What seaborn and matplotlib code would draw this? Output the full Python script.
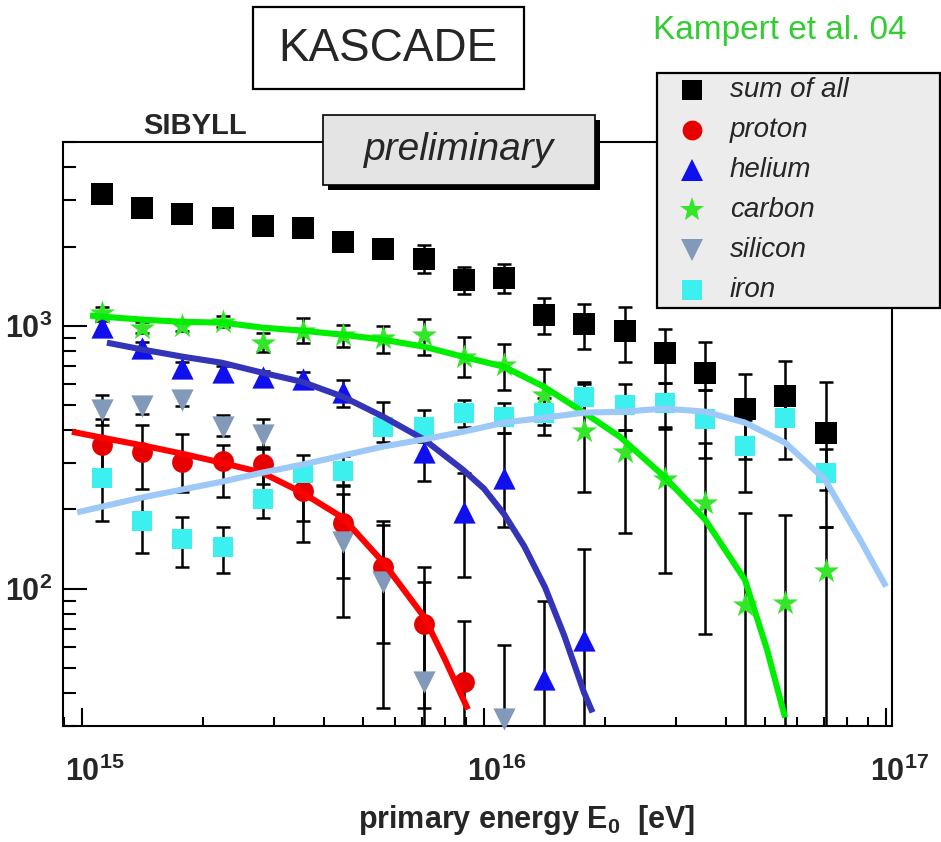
import numpy as np
import pandas as pd
import matplotlib
matplotlib.use("Agg")
import matplotlib.pyplot as plt
import seaborn as sns
from matplotlib.lines import Line2D
from matplotlib.patches import Rectangle
from matplotlib.transforms import ScaledTranslation
from matplotlib.ticker import FixedLocator, FuncFormatter, NullFormatter

# ---------------- data ----------------
nan = np.nan
log_e = [15.05, 15.15, 15.25, 15.35, 15.45, 15.55, 15.65, 15.75, 15.85, 15.95,
         16.05, 16.15, 16.25, 16.35, 16.45, 16.55, 16.65, 16.75, 16.85]

sum_val = [3180, 2810, 2670, 2575, 2400, 2360, 2085, 1963, 1798, 1496,
           1522, 1101, 1018, 957, 789, 663, 483, 542, 392]
sum_hi = [3370, 2980, 2830, 2730, 2545, 2500, 2210, 2080, 2030, 1675,
          1721, 1278, 1212, 1181, 974, 869, 657, 736, 612]
sum_lo = [3000, 2650, 2520, 2430, 2265, 2225, 1965, 1850, 1590, 1323,
          1335, 932, 818, 730, 607, 571, 312, 420, 238]

proton_val = [353, 332, 304, 307, 299, 236, 178, 121, 73.6, 44.3]
proton_hi = [440, 420, 388, 353, 345, 283, 248, 180, 121, 75]
proton_lo = [283, 240, 232, 224, 250, 150, 110, 62, 35, 15]

helium_val = [990, 825, 692, 669, 640, 629, 561, nan, 332, 196, 264, 45.1, 64]
helium_hi = [1040, 870, 730, 705, 675, 665, 624, nan, 440, 276, 392, 90, 141]
helium_lo = [940, 785, 655, 635, 605, 595, 492, nan, 257, 111, 171, 15, 15]

carbon_val = [1121, 983, 1000, 1035, 862, 957, 924, 900, 924, 762,
              711, 547, 396, 332, 262, 212, 86.9, 88.5, 117]
carbon_hi = [1175, 1030, 1050, 1085, 940, 1073, 1009, 1000, 1063, 908,
             854, 686, 612, 402, 410, 359, 194, 191, 172]
carbon_lo = [1070, 940, 955, 985, 796, 862, 832, 790, 776, 640,
             571, 385, 232, 163, 115, 67, 15, 15, 15]

silicon_val = [480, 496, 523, 413, 385, nan, 150, 106, 44, nan, 31.8]
silicon_hi = [547, 535, 555, 459, 443, nan, 228, 175, 106, nan, 61]
silicon_lo = [420, 460, 495, 380, 340, nan, 78, 35, 15, nan, 15]

iron_val = [264, 180, 155, 144.5, 220, 276, 279, 413, 413, 467,
            451, 467, 537, 501, 510, 443, 350, 447, 276]
iron_hi = [347, 224, 188, 172, 309, 323, 320, 514, 480, 523,
           510, 533, 600, 601, 607, 571, 439, 540, 340]
iron_lo = [181, 137, 121, 115, 185, 180, 245, 362, 360, 413,
           392, 420, 470, 402, 406, 315, 234, 312, 172]

# fitted curves (log10 E, N)
fit_p_loge = [14.975, 15.050, 15.152, 15.249, 15.348, 15.448, 15.547, 15.649, 15.749, 15.851, 15.903, 15.960]
fit_p_val = [395, 375, 350, 326, 301, 276, 232, 186, 126, 78, 53.7, 34.7]

fit_he_loge = [15.062, 15.152, 15.251, 15.348, 15.448, 15.547, 15.649, 15.749, 15.851, 15.948,
               16.000, 16.050, 16.100, 16.152, 16.200, 16.249, 16.270]
fit_he_val = [862, 811, 762, 723, 663, 612, 537, 451, 369, 283,
              240, 192, 145, 101, 66, 40.2, 33.8]

fit_c_loge = [15.020, 15.152, 15.249, 15.351, 15.450, 15.550, 15.649, 15.749, 15.851, 15.948,
              16.050, 16.149, 16.249, 16.338, 16.448, 16.550, 16.649, 16.704, 16.749]
fit_c_val = [1092, 1054, 1035, 1027, 983, 957, 924, 885, 832, 762,
             698, 586, 467, 378, 267, 183, 108, 58.6, 32.3]

fit_fe_loge = [14.988, 15.149, 15.348, 15.448, 15.547, 15.749, 15.848, 15.948, 16.050, 16.152,
               16.249, 16.348, 16.448, 16.550, 16.649, 16.749, 16.848, 16.935, 17.000]
fit_fe_val = [195, 222, 255, 276, 296, 347, 369, 395, 428, 447,
              467, 471, 484, 471, 428, 359, 260, 154, 101.8]

legend_labels = ["sum of all", "proton", "helium", "carbon", "silicon", "iron"]

# ---------------- style ----------------
sns.set_style("ticks")
plt.rcParams["font.family"] = ["Liberation Sans", "DejaVu Sans"]
plt.rcParams["mathtext.fontset"] = "custom"
plt.rcParams["mathtext.rm"] = "Liberation Sans"
plt.rcParams["mathtext.bf"] = "Liberation Sans:bold"
plt.rcParams["mathtext.it"] = "Liberation Sans:italic"

W, H = 941, 842
fig = plt.figure(figsize=(W / 100, H / 100), dpi=100)
ax = fig.add_axes([63 / W, 1 - 726 / H, (892 - 63) / W, (726 - 142) / H])
ax.set_xscale("log")
ax.set_yscale("log")

series = [
    ("sum of all", sum_val, sum_hi, sum_lo, "s", "#000000", 15.5),
    ("proton", proton_val, proton_hi, proton_lo, "o", "#e60000", 15.0),
    ("helium", helium_val, helium_hi, helium_lo, "^", "#1010ee", 16.0),
    ("carbon", carbon_val, carbon_hi, carbon_lo, "*", "#33e62a", 19.0),
    ("silicon", silicon_val, silicon_hi, silicon_lo, "v", "#8299b9", 16.0),
    ("iron", iron_val, iron_hi, iron_lo, "s", "#3cf0f0", 15.0),
]

energies = 10.0 ** np.array(log_e)
for name, val, hi, lo, mk, col, ms in series:
    v = np.array(val, dtype=float)
    n = len(v)
    e = energies[:n]
    hi_a = np.array(hi, dtype=float)
    lo_a = np.array(lo, dtype=float)
    ok = ~np.isnan(v)
    ax.errorbar(e[ok], v[ok], yerr=[v[ok] - lo_a[ok], hi_a[ok] - v[ok]], fmt="none",
                ecolor="black", elinewidth=1.8, capsize=5, capthick=1.8, zorder=2)

for name, val, hi, lo, mk, col, ms in series:
    v = np.array(val, dtype=float)
    df = pd.DataFrame({"E": energies[:len(v)], "N": v}).dropna()
    sns.scatterplot(data=df, x="E", y="N", marker=mk, color=col, s=ms ** 2,
                    linewidth=0, ax=ax, zorder=3, clip_on=False, legend=False)

fits = [
    (fit_p_loge, fit_p_val, "#ff0000"),
    (fit_he_loge, fit_he_val, "#3434b8"),
    (fit_c_loge, fit_c_val, "#00ee00"),
    (fit_fe_loge, fit_fe_val, "#9cc9f7"),
]
for le, fv, col in fits:
    df = pd.DataFrame({"E": 10.0 ** np.array(le), "N": fv})
    sns.lineplot(data=df, x="E", y="N", color=col, linewidth=4.4, sort=False,
                 estimator=None, ax=ax, zorder=4, solid_capstyle="butt")

ax.set_xlim(0.897e15, 1.035e17)
ax.set_ylim(30, 5000)
ax.set_xlabel("")
ax.set_ylabel("")

for sp in ax.spines.values():
    sp.set_linewidth(1.5)
    sp.set_color("black")

fmt = FuncFormatter(lambda v, p: r"$\mathbf{10^{%d}}$" % int(round(np.log10(v))))
ax.xaxis.set_major_locator(FixedLocator([1e15, 1e16, 1e17]))
ax.xaxis.set_minor_locator(FixedLocator([m * 10.0 ** d for d in (14, 15, 16) for m in range(2, 10)]))
ax.yaxis.set_major_locator(FixedLocator([1e2, 1e3]))
ax.yaxis.set_minor_locator(FixedLocator([m * 10.0 ** d for d in (1, 2, 3) for m in range(2, 10)]))
ax.xaxis.set_major_formatter(fmt)
ax.yaxis.set_major_formatter(fmt)
ax.xaxis.set_minor_formatter(NullFormatter())
ax.yaxis.set_minor_formatter(NullFormatter())

ax.tick_params(axis="both", which="both", direction="in", top=False, right=False,
               width=1.5, color="black", labelsize=22)
ax.tick_params(axis="y", which="major", length=17, pad=8)
ax.tick_params(axis="y", which="minor", length=9.5)
ax.tick_params(axis="x", which="major", length=13, pad=22)
ax.tick_params(axis="x", which="minor", length=6.5)
shift = ScaledTranslation(0.13, 0, fig.dpi_scale_trans)
for lab in ax.get_xticklabels():
    lab.set_transform(lab.get_transform() + shift)

# ---------------- annotations ----------------
def px_rect(x0, y0, x1, y1, **kw):
    r = Rectangle((x0 / W, 1 - y1 / H), (x1 - x0) / W, (y1 - y0) / H,
                  transform=fig.transFigure, **kw)
    fig.add_artist(r)
    return r

px_rect(253, 7, 524, 89, facecolor="white", edgecolor="black", linewidth=1.6, zorder=5)
fig.text(388 / W, 1 - 49 / H, "KASCADE", ha="center", va="center", fontsize=33, zorder=6)

px_rect(328, 120, 600, 190, facecolor="black", edgecolor="black", linewidth=0, zorder=5)
px_rect(323, 115, 595, 185, facecolor="#e4e4e4", edgecolor="black", linewidth=1.2, zorder=5)
fig.text(459 / W, 1 - 150 / H, "preliminary", ha="center", va="center", fontsize=28,
         style="italic", zorder=6)

fig.text(195 / W, 1 - 126 / H, "SIBYLL", ha="center", va="center", fontsize=21,
         fontweight="bold", zorder=6)
fig.text(780 / W, 1 - 30 / H, "Kampert et al. 04", ha="center", va="center", fontsize=24,
         color="#33cc33", zorder=6)
fig.text(527 / W, 1 - 820 / H, r"primary energy $\mathbf{E_{0}}$  [eV]", ha="center",
         va="center", fontsize=22, fontweight="bold", zorder=6)

# legend box (drawn by hand so that it sits exactly where the reference has it)
px_rect(657, 73, 940, 308, facecolor="#ececec", edgecolor="black", linewidth=1.6, zorder=7)
row_y = [90, 130, 170, 210, 250, 290]
for (name, val, hi, lo, mk, col, ms), lab, ry in zip(series, legend_labels, row_y):
    fig.add_artist(Line2D([692 / W], [1 - ry / H], transform=fig.transFigure,
                          linestyle="none", marker=mk, color=col, markersize=ms * 0.95,
                          markeredgewidth=0, zorder=8))
    fig.text(730 / W, 1 - ry / H, lab, ha="left", va="center", fontsize=20,
             style="italic", zorder=8)

fig.savefig("out.png", dpi=100)
